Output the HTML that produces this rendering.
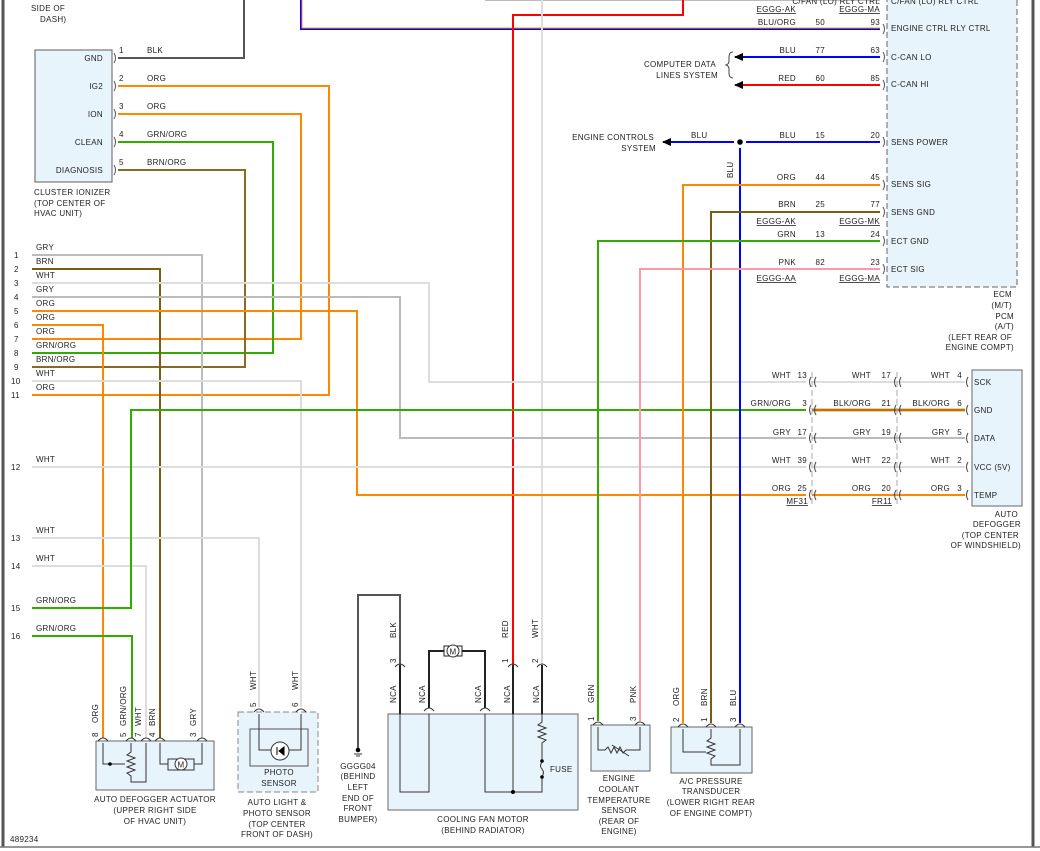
<!DOCTYPE html>
<html><head><meta charset="utf-8"><style>
html,body{margin:0;padding:0;background:#fff}
svg{display:block}
text{font-family:"Liberation Sans",sans-serif;font-size:8px;fill:#222;letter-spacing:0.3px}
.u{text-decoration:underline}
</style></head><body>
<svg width="1040" height="851" viewBox="0 0 1040 851" xmlns="http://www.w3.org/2000/svg">
<defs>
<marker id="ar" markerUnits="userSpaceOnUse" markerWidth="10" markerHeight="10" refX="1" refY="5" orient="auto"><path d="M9,1 L0,5 L9,9z" fill="#000"/></marker>
</defs>
<!-- frame -->
<line x1="3" y1="0" x2="3" y2="847" stroke="#555" stroke-width="3"/>
<line x1="1033" y1="0" x2="1033" y2="847" stroke="#555" stroke-width="3"/>
<line x1="0" y1="847" x2="1040" y2="847" stroke="#777" stroke-width="1.5"/>
<text x="10" y="842">489234</text>
<text x="31" y="11">SIDE OF</text>
<text x="40" y="22">DASH)</text>

<!-- ECM box -->
<rect x="887" y="-5" width="130" height="292" fill="#e8f4fb" stroke="#666" stroke-dasharray="6,3"/>
<!-- Cluster ionizer -->
<rect x="35" y="50" width="77" height="132" fill="#e8f4fb" stroke="#777" stroke-width="1.2"/>
<g text-anchor="end"><text x="103" y="61">GND</text><text x="103" y="89">IG2</text><text x="103" y="117">ION</text><text x="103" y="145">CLEAN</text><text x="103" y="173">DIAGNOSIS</text></g>
<text x="34" y="195">CLUSTER IONIZER</text><text x="34" y="206">(TOP CENTER OF</text><text x="34" y="216">HVAC UNIT)</text>
<g><text x="119" y="53">1</text><text x="119" y="81">2</text><text x="119" y="109">3</text><text x="119" y="137">4</text><text x="119" y="165">5</text>
<text x="147" y="53">BLK</text><text x="147" y="81">ORG</text><text x="147" y="109">ORG</text><text x="147" y="137">GRN/ORG</text><text x="147" y="165">BRN/ORG</text></g>

<!-- top wires -->
<polyline points="485,0 880,0" fill="none" stroke="#bbb" stroke-width="2"/>
<polyline points="301,0 301,29 880,29" fill="none" stroke="#00f" stroke-width="2"/>
<polyline points="302,0 302,28 880,28" fill="none" stroke="#f90" stroke-width="1"/>
<polyline points="683,0 683,15 513,15 513,665" fill="none" stroke="#f00" stroke-width="2"/>
<line x1="542" y1="0" x2="542" y2="665" stroke="#ddd" stroke-width="2"/>
<polyline points="118,58 244,58 244,0" fill="none" stroke="#555" stroke-width="2"/>
<!-- ionizer wires -->
<polyline points="118,86 329,86 329,395 32,395" fill="none" stroke="#f80" stroke-width="2"/>
<polyline points="118,114 301,114 301,339 32,339" fill="none" stroke="#f80" stroke-width="2"/>
<polyline points="118,142 273,142 273,353 32,353" fill="none" stroke="#3a0" stroke-width="2"/>
<polyline points="118,170 245,170 245,367 32,367" fill="none" stroke="#8a6a20" stroke-width="2"/>
<!-- left connector wires -->
<polyline points="32,255 202,255 202,738" fill="none" stroke="#bbb" stroke-width="2"/>
<polyline points="32,269 160,269 160,738" fill="none" stroke="#7a5c12" stroke-width="2"/>
<polyline points="32,283 429,283 429,382 806,382" fill="none" stroke="#ddd" stroke-width="2"/>
<polyline points="32,297 400,297 400,438 806,438" fill="none" stroke="#bbb" stroke-width="2"/>
<polyline points="32,311 357,311 357,495 806,495" fill="none" stroke="#f80" stroke-width="2"/>
<polyline points="32,325 103,325 103,738" fill="none" stroke="#f80" stroke-width="2"/>
<polyline points="32,381 301,381 301,707" fill="none" stroke="#ddd" stroke-width="2"/>
<polyline points="32,467 806,467" fill="none" stroke="#ddd" stroke-width="2"/>
<polyline points="32,538 259,538 259,707" fill="none" stroke="#ddd" stroke-width="2"/>
<polyline points="32,566 146,566 146,738" fill="none" stroke="#ddd" stroke-width="2"/>
<polyline points="32,608 131,608 131,410 806,410" fill="none" stroke="#3a0" stroke-width="2"/>
<polyline points="32,636 132,636 132,738" fill="none" stroke="#3a0" stroke-width="2"/>
<g>
<text x="14" y="258">1</text><text x="14" y="272">2</text><text x="14" y="286">3</text><text x="14" y="300">4</text><text x="14" y="314">5</text><text x="14" y="328">6</text><text x="14" y="342">7</text><text x="14" y="356">8</text><text x="14" y="370">9</text><text x="11" y="384">10</text><text x="11" y="398">11</text><text x="11" y="470">12</text><text x="11" y="541">13</text><text x="11" y="569">14</text><text x="11" y="611">15</text><text x="11" y="639">16</text>
<text x="36" y="250">GRY</text><text x="36" y="264">BRN</text><text x="36" y="278">WHT</text><text x="36" y="292">GRY</text><text x="36" y="306">ORG</text><text x="36" y="320">ORG</text><text x="36" y="334">ORG</text><text x="36" y="348">GRN/ORG</text><text x="36" y="362">BRN/ORG</text><text x="36" y="376">WHT</text><text x="36" y="390">ORG</text><text x="36" y="462">WHT</text><text x="36" y="533">WHT</text><text x="36" y="561">WHT</text><text x="36" y="603">GRN/ORG</text><text x="36" y="631">GRN/ORG</text>
</g>

<!-- ECM rows -->
<line x1="735" y1="57" x2="880" y2="57" stroke="#00f" stroke-width="2" marker-start="url(#ar)"/>
<line x1="735" y1="85" x2="880" y2="85" stroke="#f00" stroke-width="2" marker-start="url(#ar)"/>
<line x1="663" y1="142" x2="734" y2="142" stroke="#00f" stroke-width="2" marker-start="url(#ar)"/>
<line x1="746" y1="142" x2="880" y2="142" stroke="#00f" stroke-width="2"/>
<circle cx="740" cy="142" r="2.8" fill="#000"/>
<line x1="740" y1="148" x2="740" y2="723" stroke="#00f" stroke-width="2"/>
<polyline points="880,185 683,185 683,723" fill="none" stroke="#f80" stroke-width="2"/>
<polyline points="880,212 711,212 711,723" fill="none" stroke="#7a5c12" stroke-width="2"/>
<polyline points="880,241 598,241 598,721" fill="none" stroke="#3a0" stroke-width="2"/>
<polyline points="880,269 640,269 640,721" fill="none" stroke="#f9a" stroke-width="2"/>
<path d="M733,52 q-4,0 -4,5 v4 q0,3 -3,4 q3,1 3,4 v4 q0,5 4,5" fill="none" stroke="#444"/>
<text x="716" y="67" text-anchor="end">COMPUTER DATA</text><text x="718" y="78" text-anchor="end">LINES SYSTEM</text>
<text x="654" y="140" text-anchor="end">ENGINE CONTROLS</text><text x="656" y="151" text-anchor="end">SYSTEM</text>
<text x="691" y="138">BLU</text>
<text transform="translate(733,178) rotate(-90)">BLU</text>
<g text-anchor="end">
<text x="880" y="4">C/FAN (LO) RLY CTRL</text>
<text x="796" y="12" class="u">EGGG-AK</text><text x="880" y="12" class="u">EGGG-MA</text>
<text x="796" y="25">BLU/ORG</text><text x="825" y="25">50</text><text x="880" y="25">93</text>
<text x="796" y="53">BLU</text><text x="825" y="53">77</text><text x="880" y="53">63</text>
<text x="796" y="81">RED</text><text x="825" y="81">60</text><text x="880" y="81">85</text>
<text x="796" y="138">BLU</text><text x="825" y="138">15</text><text x="880" y="138">20</text>
<text x="796" y="180">ORG</text><text x="825" y="180">44</text><text x="880" y="180">45</text>
<text x="796" y="207">BRN</text><text x="825" y="207">25</text><text x="880" y="207">77</text>
<text x="796" y="224" class="u">EGGG-AK</text><text x="880" y="224" class="u">EGGG-MK</text>
<text x="796" y="237">GRN</text><text x="825" y="237">13</text><text x="880" y="237">24</text>
<text x="796" y="265">PNK</text><text x="825" y="265">82</text><text x="880" y="265">23</text>
<text x="796" y="281" class="u">EGGG-AA</text><text x="880" y="281" class="u">EGGG-MA</text>
<text x="1012" y="297">ECM</text><text x="1012" y="308">(M/T)</text><text x="1014" y="319">PCM</text><text x="1014" y="329">(A/T)</text><text x="1012" y="340">(LEFT REAR OF</text><text x="1014" y="350">ENGINE COMPT)</text>
</g>
<text x="891" y="4">C/FAN (LO) RLY CTRL</text>
<g><text x="891" y="31">ENGINE CTRL RLY CTRL</text><text x="891" y="60">C-CAN LO</text><text x="891" y="87">C-CAN HI</text><text x="891" y="145">SENS POWER</text><text x="891" y="187">SENS SIG</text><text x="891" y="215">SENS GND</text><text x="891" y="244">ECT GND</text><text x="891" y="272">ECT SIG</text></g>
<g fill="none" stroke="#555"><path d="M883,24 q3,5 0,10"/><path d="M883,52 q3,5 0,10"/><path d="M883,80 q3,5 0,10"/><path d="M883,137 q3,5 0,10"/><path d="M883,180 q3,5 0,10"/><path d="M883,207 q3,5 0,10"/><path d="M883,236 q3,5 0,10"/><path d="M883,264 q3,5 0,10"/>
<path d="M114,53 q3,5 0,10"/><path d="M114,81 q3,5 0,10"/><path d="M114,109 q3,5 0,10"/><path d="M114,137 q3,5 0,10"/><path d="M114,165 q3,5 0,10"/></g>

<!-- auto defogger rows -->
<line x1="812" y1="382" x2="965" y2="382" stroke="#ddd" stroke-width="2"/>
<line x1="812" y1="410" x2="965" y2="410" stroke="#f90" stroke-width="3"/>
<line x1="812" y1="410" x2="965" y2="410" stroke="#555" stroke-width="1"/>
<line x1="812" y1="438" x2="965" y2="438" stroke="#bbb" stroke-width="2"/>
<line x1="812" y1="467" x2="965" y2="467" stroke="#ddd" stroke-width="2"/>
<line x1="812" y1="495" x2="965" y2="495" stroke="#f80" stroke-width="2"/>
<line x1="812" y1="372" x2="812" y2="505" stroke="#aaa" stroke-dasharray="6,3"/>
<line x1="897" y1="372" x2="897" y2="505" stroke="#aaa" stroke-dasharray="6,3"/>
<g fill="none" stroke="#444">
<path d="M811,377 q-3,5 0,10 M816,377 q-3,5 0,10 M811,405 q-3,5 0,10 M816,405 q-3,5 0,10 M811,433 q-3,5 0,10 M816,433 q-3,5 0,10 M811,462 q-3,5 0,10 M816,462 q-3,5 0,10 M811,490 q-3,5 0,10 M816,490 q-3,5 0,10"/>
<path d="M896,377 q-3,5 0,10 M901,377 q-3,5 0,10 M896,405 q-3,5 0,10 M901,405 q-3,5 0,10 M896,433 q-3,5 0,10 M901,433 q-3,5 0,10 M896,462 q-3,5 0,10 M901,462 q-3,5 0,10 M896,490 q-3,5 0,10 M901,490 q-3,5 0,10"/>
<path d="M968,377 q-3,5 0,10 M968,405 q-3,5 0,10 M968,433 q-3,5 0,10 M968,462 q-3,5 0,10 M968,490 q-3,5 0,10"/>
</g>
<rect x="972" y="370" width="50" height="136" fill="#e8f4fb" stroke="#666"/>
<text x="974" y="385">SCK</text><text x="974" y="413">GND</text><text x="974" y="441">DATA</text><text x="974" y="470">VCC (5V)</text><text x="974" y="498">TEMP</text>
<g text-anchor="end">
<text x="791" y="378">WHT</text><text x="807" y="378">13</text><text x="871" y="378">WHT</text><text x="891" y="378">17</text><text x="950" y="378">WHT</text><text x="962" y="378">4</text>
<text x="791" y="406">GRN/ORG</text><text x="807" y="406">3</text><text x="871" y="406">BLK/ORG</text><text x="891" y="406">21</text><text x="950" y="406">BLK/ORG</text><text x="962" y="406">6</text>
<text x="791" y="435">GRY</text><text x="807" y="435">17</text><text x="871" y="435">GRY</text><text x="891" y="435">19</text><text x="950" y="435">GRY</text><text x="962" y="435">5</text>
<text x="791" y="463">WHT</text><text x="807" y="463">39</text><text x="871" y="463">WHT</text><text x="891" y="463">22</text><text x="950" y="463">WHT</text><text x="962" y="463">2</text>
<text x="791" y="491">ORG</text><text x="807" y="491">25</text><text x="871" y="491">ORG</text><text x="891" y="491">20</text><text x="950" y="491">ORG</text><text x="962" y="491">3</text>
<text x="808" y="504" class="u">MF31</text><text x="892" y="504" class="u">FR11</text>
<text x="1018" y="517">AUTO</text><text x="1021" y="527">DEFOGGER</text><text x="1019" y="538">(TOP CENTER</text><text x="1021" y="548">OF WINDSHIELD)</text>
</g>

<!-- Auto defogger actuator -->
<rect x="96" y="741" width="118" height="49" fill="#e8f4fb" stroke="#666"/>
<g fill="none" stroke="#333">
<path d="M98,741 q5,-6 10,0 M126,741 q5,-6 10,0 M141,741 q5,-6 10,0 M155,741 q5,-6 10,0 M197,741 q5,-6 10,0"/>
<polyline points="103,743 103,764 125,764"/><polyline points="131,743 131,752 127,755 135,758 127,761 135,764 127,767 135,770 127,773 131,776 131,782 146,782 146,743"/>
<polyline points="160,743 160,764 168,764"/><polyline points="194,764 202,764 202,743"/>
<rect x="168" y="759" width="26" height="11"/>
</g>
<circle cx="110" cy="764" r="1.8" fill="#000"/>
<circle cx="181" cy="764" r="6" fill="#fff" stroke="#333"/><text x="177.5" y="767.5">M</text>
<g>
<text transform="translate(98,723) rotate(-90)">ORG</text><text transform="translate(98,737) rotate(-90)">8</text>
<text transform="translate(126,726) rotate(-90)">GRN/ORG</text><text transform="translate(126,737) rotate(-90)">5</text>
<text transform="translate(141,726) rotate(-90)">WHT</text><text transform="translate(141,737) rotate(-90)">7</text>
<text transform="translate(155,726) rotate(-90)">BRN</text><text transform="translate(155,737) rotate(-90)">4</text>
<text transform="translate(196,726) rotate(-90)">GRY</text><text transform="translate(196,737) rotate(-90)">3</text>
</g>
<g text-anchor="middle"><text x="155" y="802">AUTO DEFOGGER ACTUATOR</text><text x="155" y="813">(UPPER RIGHT SIDE</text><text x="155" y="824">OF HVAC UNIT)</text></g>

<!-- photo sensor -->
<rect x="238" y="712" width="80" height="80" fill="#e8f4fb" stroke="#888" stroke-dasharray="6,3"/>
<rect x="250" y="729" width="58" height="37" fill="none" stroke="#555"/>
<g fill="none" stroke="#333"><path d="M254,712 q5,-6 10,0 M296,712 q5,-6 10,0"/>
<polyline points="259,714 259,750 301,750 301,714"/></g>
<circle cx="280" cy="751" r="9" fill="#fff" stroke="#333"/><path d="M277,747 v8 M279,751 l5,-4 v8z" stroke="#000" fill="#000"/>
<text transform="translate(256,690) rotate(-90)">WHT</text><text transform="translate(256,707) rotate(-90)">5</text>
<text transform="translate(298,690) rotate(-90)">WHT</text><text transform="translate(298,707) rotate(-90)">6</text>
<g text-anchor="middle"><text x="279" y="775">PHOTO</text><text x="279" y="786">SENSOR</text>
<text x="277" y="805">AUTO LIGHT &amp;</text><text x="277" y="816">PHOTO SENSOR</text><text x="277" y="827">(TOP CENTER</text><text x="277" y="837">FRONT OF DASH)</text></g>

<!-- ground -->
<polyline points="400,665 400,595 358,595 358,750" fill="none" stroke="#555" stroke-width="2"/>
<circle cx="358" cy="750" r="2.3" fill="#000"/><line x1="354" y1="754" x2="362" y2="754" stroke="#333"/><line x1="356" y1="756" x2="360" y2="756" stroke="#333"/>
<g text-anchor="middle"><text x="358" y="769">GGGG04</text><text x="358" y="779">(BEHIND</text><text x="358" y="790">LEFT</text><text x="358" y="801">END OF</text><text x="358" y="811">FRONT</text><text x="358" y="822">BUMPER)</text></g>

<!-- cooling fan -->
<rect x="388" y="714" width="190" height="96" fill="#e8f4fb" stroke="#666"/>
<g fill="none" stroke="#222" stroke-width="2">
<line x1="400" y1="665" x2="400" y2="714"/><line x1="513" y1="665" x2="513" y2="714"/><line x1="542" y1="665" x2="542" y2="714"/>
<polyline points="429,708 429,651 446,651"/><polyline points="460,651 485,651 485,708"/>
</g>
<rect x="444" y="646" width="18" height="10" fill="#fff" stroke="#222"/><circle cx="453" cy="651" r="6" fill="#fff" stroke="#333"/><text x="449.5" y="654.5">M</text>
<g fill="none" stroke="#333">
<path d="M395,667 q5,-6 10,0 M508,667 q5,-6 10,0 M537,667 q5,-6 10,0 M424,711 q5,-6 10,0 M480,711 q5,-6 10,0"/>
<polyline points="400,714 400,792 429,792 429,714"/><polyline points="485,714 485,792 542,792 542,778"/>
<line x1="513" y1="714" x2="513" y2="792"/>
<polyline points="542,714 542,722 538,725 546,728 538,731 546,734 538,737 546,740 542,743 542,760"/>
<path d="M542,762 q-3,4 0,7 q3,4 0,7"/>
</g>
<circle cx="542" cy="761" r="1.8" fill="#000"/><circle cx="542" cy="777" r="1.8" fill="#000"/><circle cx="513" cy="792" r="2" fill="#000"/>
<text x="550" y="772">FUSE</text>
<text transform="translate(396,638) rotate(-90)">BLK</text><text transform="translate(396,663) rotate(-90)">3</text>
<text transform="translate(508,638) rotate(-90)">RED</text><text transform="translate(508,663) rotate(-90)">1</text>
<text transform="translate(538,638) rotate(-90)">WHT</text><text transform="translate(538,663) rotate(-90)">2</text>
<text transform="translate(396,703) rotate(-90)">NCA</text><text transform="translate(425,703) rotate(-90)">NCA</text><text transform="translate(481,703) rotate(-90)">NCA</text><text transform="translate(510,703) rotate(-90)">NCA</text><text transform="translate(539,703) rotate(-90)">NCA</text>
<g text-anchor="middle"><text x="483" y="822">COOLING FAN MOTOR</text><text x="483" y="833">(BEHIND RADIATOR)</text></g>

<!-- ECT -->
<rect x="591" y="725" width="59" height="46" fill="#e8f4fb" stroke="#666"/>
<g fill="none" stroke="#333"><path d="M593,725 q5,-6 10,0 M635,725 q5,-6 10,0"/>
<polyline points="598,727 598,750 605,750 608,747 611,753 614,747 617,753 620,747 623,753 626,750 640,750 640,727"/><line x1="612" y1="745" x2="629" y2="756"/></g>
<text transform="translate(594,703) rotate(-90)">GRN</text><text transform="translate(594,721) rotate(-90)">1</text>
<text transform="translate(636,703) rotate(-90)">PNK</text><text transform="translate(636,721) rotate(-90)">3</text>
<g text-anchor="middle"><text x="619" y="781">ENGINE</text><text x="619" y="792">COOLANT</text><text x="619" y="803">TEMPERATURE</text><text x="619" y="813">SENSOR</text><text x="619" y="824">(REAR OF</text><text x="619" y="834">ENGINE)</text></g>

<!-- A/C -->
<rect x="671" y="727" width="81" height="46" fill="#e8f4fb" stroke="#666"/>
<g fill="none" stroke="#333"><path d="M678,727 q5,-6 10,0 M706,727 q5,-6 10,0 M735,727 q5,-6 10,0"/>
<polyline points="683,729 683,752 706,752"/><polyline points="711,729 711,738 707,741 715,744 707,747 715,750 707,753 715,756 711,759 711,765 740,765 740,729"/></g>
<text transform="translate(679,706) rotate(-90)">ORG</text><text transform="translate(679,722) rotate(-90)">2</text>
<text transform="translate(707,706) rotate(-90)">BRN</text><text transform="translate(707,722) rotate(-90)">1</text>
<text transform="translate(736,706) rotate(-90)">BLU</text><text transform="translate(736,722) rotate(-90)">3</text>
<g text-anchor="middle"><text x="711" y="784">A/C PRESSURE</text><text x="711" y="794">TRANSDUCER</text><text x="711" y="805">(LOWER RIGHT REAR</text><text x="711" y="816">OF ENGINE COMPT)</text></g>
</svg>
</body></html>
